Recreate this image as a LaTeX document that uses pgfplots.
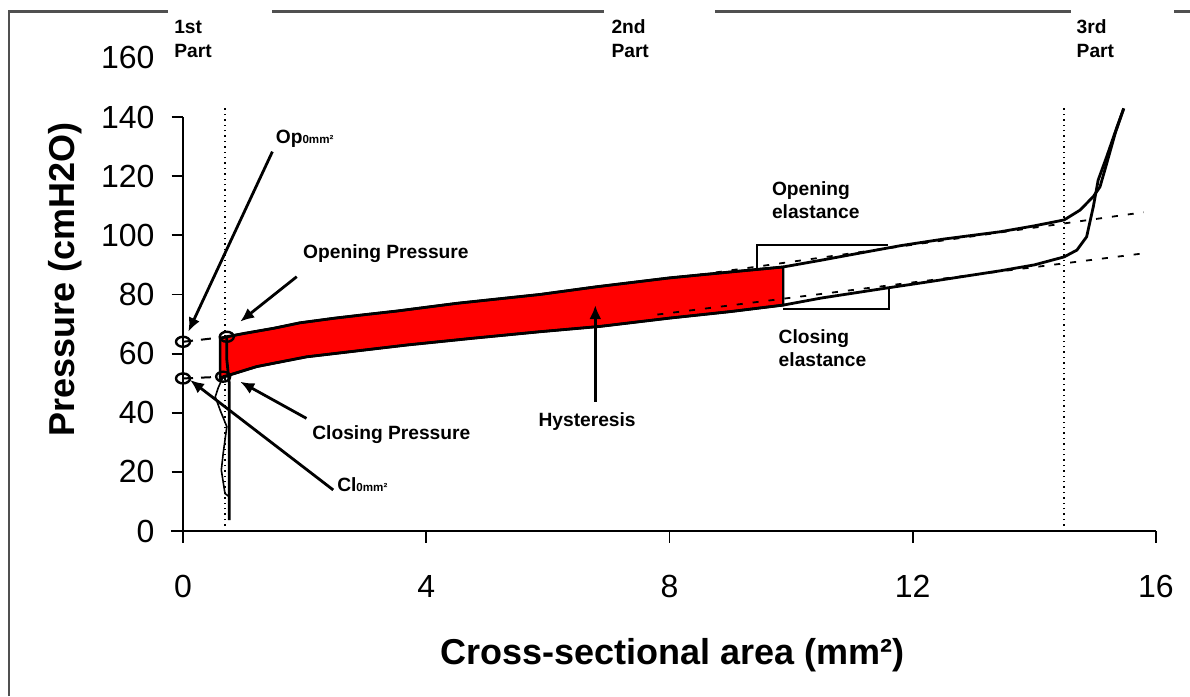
\documentclass[border=0pt]{standalone}
\usepackage{fontspec}
\setmainfont{Liberation Sans}
\usepackage{pgfplots}
\pgfplotsset{compat=1.18}
\usetikzlibrary{arrows.meta}
\definecolor{framegray}{RGB}{80,80,80}
\begin{document}
\begin{tikzpicture}
\begin{axis}[
  x=30.4pt, y=1.4785pt,
  xmin=-0.2, xmax=16, ymin=0, ymax=160,
  axis lines=middle,
  axis line style={-, line width=0.9pt, black},
  y axis line style={draw=none},
  hide obscured x ticks=false, hide obscured y ticks=false,
  xtick={0,4,8,12,16},
  ytick={0,20,...,140},
  extra y ticks={160},
  extra y tick style={major tick length=0pt, yticklabel style={xshift=-5.75pt}},
  tick align=outside,
  major tick length=5.75pt,
  tick style={line width=0.9pt, black},
  /pgf/number format/assume math mode=true,
  ticklabel style={font=\fontsize{16}{19}\selectfont},
  xticklabel style={yshift=-13pt},
  yticklabel style={xshift=-5pt},
  xlabel={Cross-sectional area (mm²)},
  ylabel={Pressure (cmH2O)},
  label style={font=\bfseries\fontsize{18}{21}\selectfont},
  xlabel style={at={(axis description cs:0.509,-0.283)}, anchor=base},
  ylabel style={at={(axis description cs:-0.0974,0.531)}, anchor=base, rotate=90},
  clip=false,
]
% frame
\draw[framegray, line width=1.1pt] (axis cs:-2.86,-55.8) -- (axis cs:-2.86,175.7) -- (axis cs:-0.247,175.7);
\draw[framegray, line width=1.1pt] (axis cs:1.464,175.7) -- (axis cs:6.92,175.7);
\draw[framegray, line width=1.1pt] (axis cs:8.75,175.7) -- (axis cs:14.6,175.7);
\draw[framegray, line width=1.1pt] (axis cs:16.3,175.7) -- (axis cs:16.56,175.7);
\draw[line width=0.9pt] (axis cs:0,0) -- (axis cs:0,140);
% vertical dotted lines
\addplot[black, line width=0.7pt, dotted] coordinates {(0.69,0) (0.69,143.5)};
\addplot[black, line width=0.7pt, dotted] coordinates {(14.49,0) (14.49,143.5)};
% hysteresis fill
\addplot[fill=red, draw=black, line width=1.2pt] coordinates {
 (0.61,65) (0.72,65.7) (1.0,66.8) (1.5,68.6) (1.92,70.4) (2.5,72.0) (3.0,73.2) (3.52,74.4)
 (4.5,77.0) (5.87,80.0) (6.8,82.6) (8.0,85.6) (9.0,87.6) (9.87,89.3)
 (9.87,76.4) (9.0,74.2) (8.0,72.0) (6.86,69.2) (5.87,67.4) (4.77,65.2) (3.68,62.9)
 (2.03,58.9) (1.21,55.6) (0.77,52.8) (0.61,51.5)} -- cycle;
% opening curve
\addplot[black, line width=1.4pt] coordinates {
 (0.76,3.7) (0.76,30) (0.76,50) (0.72,58) (0.72,65.7) (1.0,66.8) (1.5,68.6) (1.92,70.4)
 (2.5,72.0) (3.0,73.2) (3.52,74.4) (4.5,77.0) (5.87,80.0) (6.8,82.6) (8.0,85.6) (9.0,87.6)
 (9.87,89.3) (10.5,91.6) (11.0,93.5) (11.8,96.5) (12.5,98.7) (13.44,101.2) (14.0,103.2)
 (14.49,105.2) (14.75,108.5) (14.97,113.1) (15.08,116.4) (15.19,124.3) (15.33,134.5) (15.47,142.9)};
% closing curve
\addplot[black, line width=1.4pt] coordinates {
 (15.47,142.9) (15.36,136.7) (15.19,126.6) (15.05,118.7) (14.97,109.7) (14.86,99.5) (14.7,95.0)
 (14.49,92.7) (14.0,90.0) (13.44,88.0) (12.9,86.3) (12.3,84.4) (11.58,82.2) (10.5,78.8)
 (9.87,76.4) (9.0,74.2) (8.0,72.0) (6.86,69.2) (5.87,67.4) (4.77,65.2) (3.68,62.9)
 (2.03,58.9) (1.21,55.6) (0.77,52.8) (0.66,52.2)};
\addplot[black, line width=0.8pt] coordinates {
 (0.66,52.2) (0.58,48.5) (0.53,45.4) (0.61,40.9) (0.72,35.3) (0.66,26.2) (0.63,20.6) (0.69,12.7) (0.76,11.6)};
% elastance lines
\addplot[black, line width=0.9pt, dash pattern=on 3pt off 5pt] coordinates {(8.5,86.7) (15.8,107.8)};
\addplot[black, line width=0.9pt, dash pattern=on 3pt off 5pt] coordinates {(7.8,73.2) (15.8,93.9)};
% extrapolation
\addplot[black, line width=1pt, dash pattern=on 5pt off 4pt] coordinates {(0,64) (0.72,65.7)};
\addplot[black, line width=1pt, dash pattern=on 5pt off 4pt] coordinates {(0,51.6) (0.66,52.2)};
\addplot[only marks, mark=o, mark size=2.5pt, mark options={xscale=1.4, line width=1.2pt, draw=black, fill=white}]
 coordinates {(0,64) (0.72,65.7) (0,51.6) (0.66,52.2)};
% boxes
\addplot[black, line width=1pt] coordinates {(9.44,88.9) (9.44,96.7) (11.6,96.7)};
\addplot[black, line width=1pt] coordinates {(9.87,75.0) (11.61,75.0) (11.61,82.1)};
% arrows
\draw[line width=1.4pt, -{Latex[length=7pt,width=6pt]}] (axis cs:1.47,128.3) -- (axis cs:0.087,67.4);
\draw[line width=1.4pt, -{Latex[length=7pt,width=6pt]}] (axis cs:1.87,86.0) -- (axis cs:0.94,70.8);
\draw[line width=1.4pt, -{Latex[length=7pt,width=6pt]}] (axis cs:2.03,38.1) -- (axis cs:0.94,50.5);
\draw[line width=1.4pt, -{Latex[length=7pt,width=6pt]}] (axis cs:2.47,13.9) -- (axis cs:0.115,51.1);
\draw[line width=1.4pt, -{Latex[length=7pt,width=6pt]}] (axis cs:6.78,43.7) -- (axis cs:6.78,76.4);
% labels
\tikzset{lab/.style={anchor=base west, inner sep=0pt, font=\bfseries\fontsize{9.6}{11}\selectfont}}
\node[lab] at (axis cs:-0.15,168.4) {1st};
\node[lab] at (axis cs:-0.15,160) {Part};
\node[lab] at (axis cs:7.04,168.4) {2nd};
\node[lab] at (axis cs:7.04,160) {Part};
\node[lab] at (axis cs:14.69,168.4) {3rd};
\node[lab] at (axis cs:14.69,160) {Part};
\node[lab] at (axis cs:1.52,131.2) {Op{\fontsize{5.8}{6}\selectfont 0mm²}};
\node[lab] at (axis cs:2.53,13.5) {Cl{\fontsize{5.8}{6}\selectfont 0mm²}};
\node[lab] at (axis cs:1.97,92.3) {Opening Pressure};
\node[lab] at (axis cs:2.12,31.1) {Closing Pressure};
\node[lab] at (axis cs:5.84,35.3) {Hysteresis};
\node[lab] at (axis cs:9.68,113.6) {Opening};
\node[lab] at (axis cs:9.68,105.7) {elastance};
\node[lab] at (axis cs:9.79,63.5) {Closing};
\node[lab] at (axis cs:9.79,55.6) {elastance};
\coordinate (bbsw) at (axis cs:-3.01,-55.8);
\coordinate (bbne) at (axis cs:16.56,179.57);
\end{axis}
\pgfresetboundingbox
\useasboundingbox (bbsw) rectangle (bbne);
\end{tikzpicture}
\end{document}
